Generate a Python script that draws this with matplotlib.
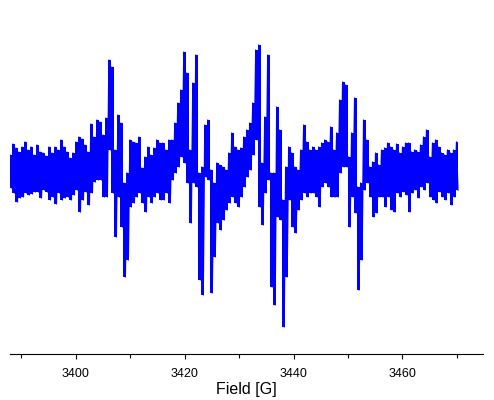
import numpy as np
import matplotlib
matplotlib.use("Agg")
import matplotlib.pyplot as plt

# EPR-Spektrum: obere und untere Einhüllende je Feldschritt (willk. Einheiten)
upper = [
    17, 28, 24, 20, 25, 30, 22, 25, 17, 27, 20, 19, 16, 25, 19, 25, 22, 32, 25, 20, 14, 19, 30, 35, 33, 27,
    20, 48, 35, 52, 50, 37, 54, 112, 105, 22, 57, 49, -11, -1, 32, 30, 29, 35, 4, 15, 25, 17, 24, 32, 29,
    29, 22, 32, 32, 49, 69, 82, 120, 99, 22, 89, 117, -1, 5, 47, 52, 2, -11, 9, 7, 5, 2, 19, 39, 25, 22,
    24, 35, 42, 49, 69, 122, 127, 9, 55, 117, -1, -1, 65, 42, -28, 5, 25, 19, 5, 2, 22, 47, 30, 22, 25,
    22, 25, 29, 32, 30, 45, 22, 39, 72, 90, 87, 15, 39, 74, -15, -11, 52, 32, 5, 10, 19, 7, 22, 24, 29, 25,
    22, 28, 19, 25, 29, 29, 20, 22, 20, 27, 35, 42, 15, 29, 32, 25, 19, 17, 22, 19, 22, 30,
]
lower = [
    -16, -21, -30, -26, -25, -21, -23, -22, -20, -20, -26, -18, -20, -28, -25, -32, -21, -28, -26, -25, -28, -23, -18, -40, -28, -20,
    -33, -21, -10, -8, -8, -25, -25, 22, -21, -65, -25, -55, -105, -88, -35, -31, -25, -21, -31, -40, -25, -31, -25, -21, -28,
    -28, -21, -31, -8, -1, 5, 15, 9, -11, -51, -11, -15, -108, -123, -5, -8, -121, -85, -51, -58, -48, -38, -31, -25, -31, -35,
    -25, -15, -5, 2, 17, 32, -35, -53, -21, -8, -115, -133, -45, -48, -155, -105, -28, -55, -61, -38, -28, -21, -25, -21, -21,
    -25, -35, -15, -11, -15, -25, -25, -25, -1, 5, 5, -55, -25, -41, -118, -88, -18, -11, -25, -45, -41, -25, -25, -35, -25, -38,
    -40, -21, -25, -20, -23, -40, -21, -18, -26, -15, -18, -11, -25, -28, -31, -20, -25, -28, -21, -33, -25, -18,
]

field_start, field_end = 3387.9, 3470.2

upper = np.array(upper)
lower = np.array(lower)
col_field = np.linspace(field_start, field_end, len(upper))

# Einhüllende abwechselnd zu einer Spur zusammensetzen
signal = np.ravel(np.column_stack([upper, lower]))
field = np.linspace(field_start, field_end, len(signal))

fig = plt.figure(figsize=(4.94, 4.0), dpi=100)
ax = fig.add_axes([10 / 494, 46 / 400, 473 / 494, 314 / 400])

ax.fill_between(col_field, lower, upper, step="mid", color="#0000FF", linewidth=0)
ax.plot(field, signal, color="#0000FF", linewidth=0.9)

ax.set_xlim(3387.9, 3474.8)
ax.set_ylim(-182, 132)

for side in ["left", "right", "top"]:
    ax.spines[side].set_visible(False)
ax.spines["bottom"].set_linewidth(0.8)
ax.set_yticks([])

ax.set_xticks([3400, 3420, 3440, 3460])
ax.set_xticks([3390, 3410, 3430, 3450, 3470], minor=True)
ax.tick_params(axis="x", which="major", direction="out", length=3.6, width=0.8,
               labelsize=9, pad=6.5)
ax.tick_params(axis="x", which="minor", direction="out", length=3.0, width=0.8)
for lbl in ax.get_xticklabels():
    lbl.set_fontfamily("Liberation Sans")

ax.set_xlabel("Field [G]", fontsize=11.5, family="Liberation Sans", labelpad=1.5)

fig.savefig("out.png", dpi=100)
